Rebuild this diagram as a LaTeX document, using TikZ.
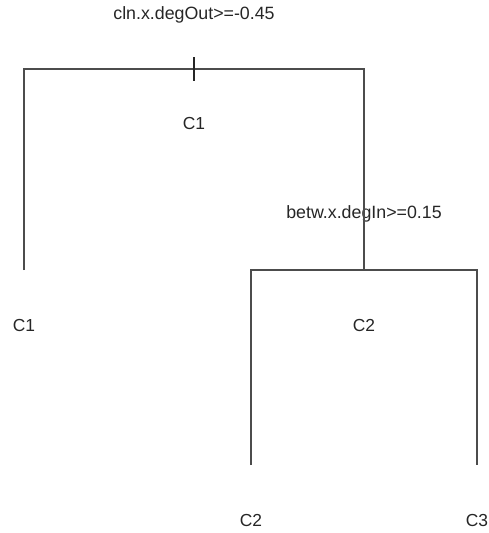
\documentclass[tikz,border=0pt]{standalone}
\usepackage{fontspec}
\setmainfont{Liberation Sans}
\usepackage{tikz}
\usetikzlibrary{positioning, calc}

\begin{document}
\begin{tikzpicture}[
    x=1pt, y=-1pt,
    branch/.style={draw=black!70, line width=1.3pt},
    tickmark/.style={draw=black!85, line width=1.6pt},
    splittext/.style={font=\fontsize{17.8}{20}\selectfont, text=black!85, inner sep=0pt},
    leaftext/.style={font=\fontsize{17.4}{20}\selectfont, text=black!85, inner sep=0pt}
]
    \useasboundingbox (0,0) rectangle (489,533);
    % Junctions
    \coordinate (root) at (194,69);
    \coordinate (rootL) at (24,69);
    \coordinate (rootR) at (364,69);
    \coordinate (tickT) at (194,57);
    \coordinate (tickB) at (194,81);
    \coordinate (leafA) at (24,270);
    \coordinate (split) at (364,270);
    \coordinate (splitL) at (251,270);
    \coordinate (splitR) at (477,270);
    \coordinate (leafB) at (251,465);
    \coordinate (leafC) at (477,465);
    % Nodes
    \node[splittext] (rule1) at (194,15) {cln.x.degOut>=-0.45};
    \node[leaftext] (fit1) at (194,124) {C1};
    \node[leaftext] (out1) at (24,326) {C1};
    \node[splittext] (rule2) at (364,214) {betw.x.degIn>=0.15};
    \node[leaftext] (fit2) at (364,326) {C2};
    \node[leaftext] (out2) at (251,521) {C2};
    \node[leaftext] (out3) at (477,521) {C3};
    % Connections
    \draw[branch] (leafA) -- (rootL) -- (rootR) -- (split);
    \draw[tickmark] (tickT) -- (tickB);
    \draw[branch] (leafB) -- (splitL) -- (splitR) -- (leafC);
\end{tikzpicture}
\end{document}
